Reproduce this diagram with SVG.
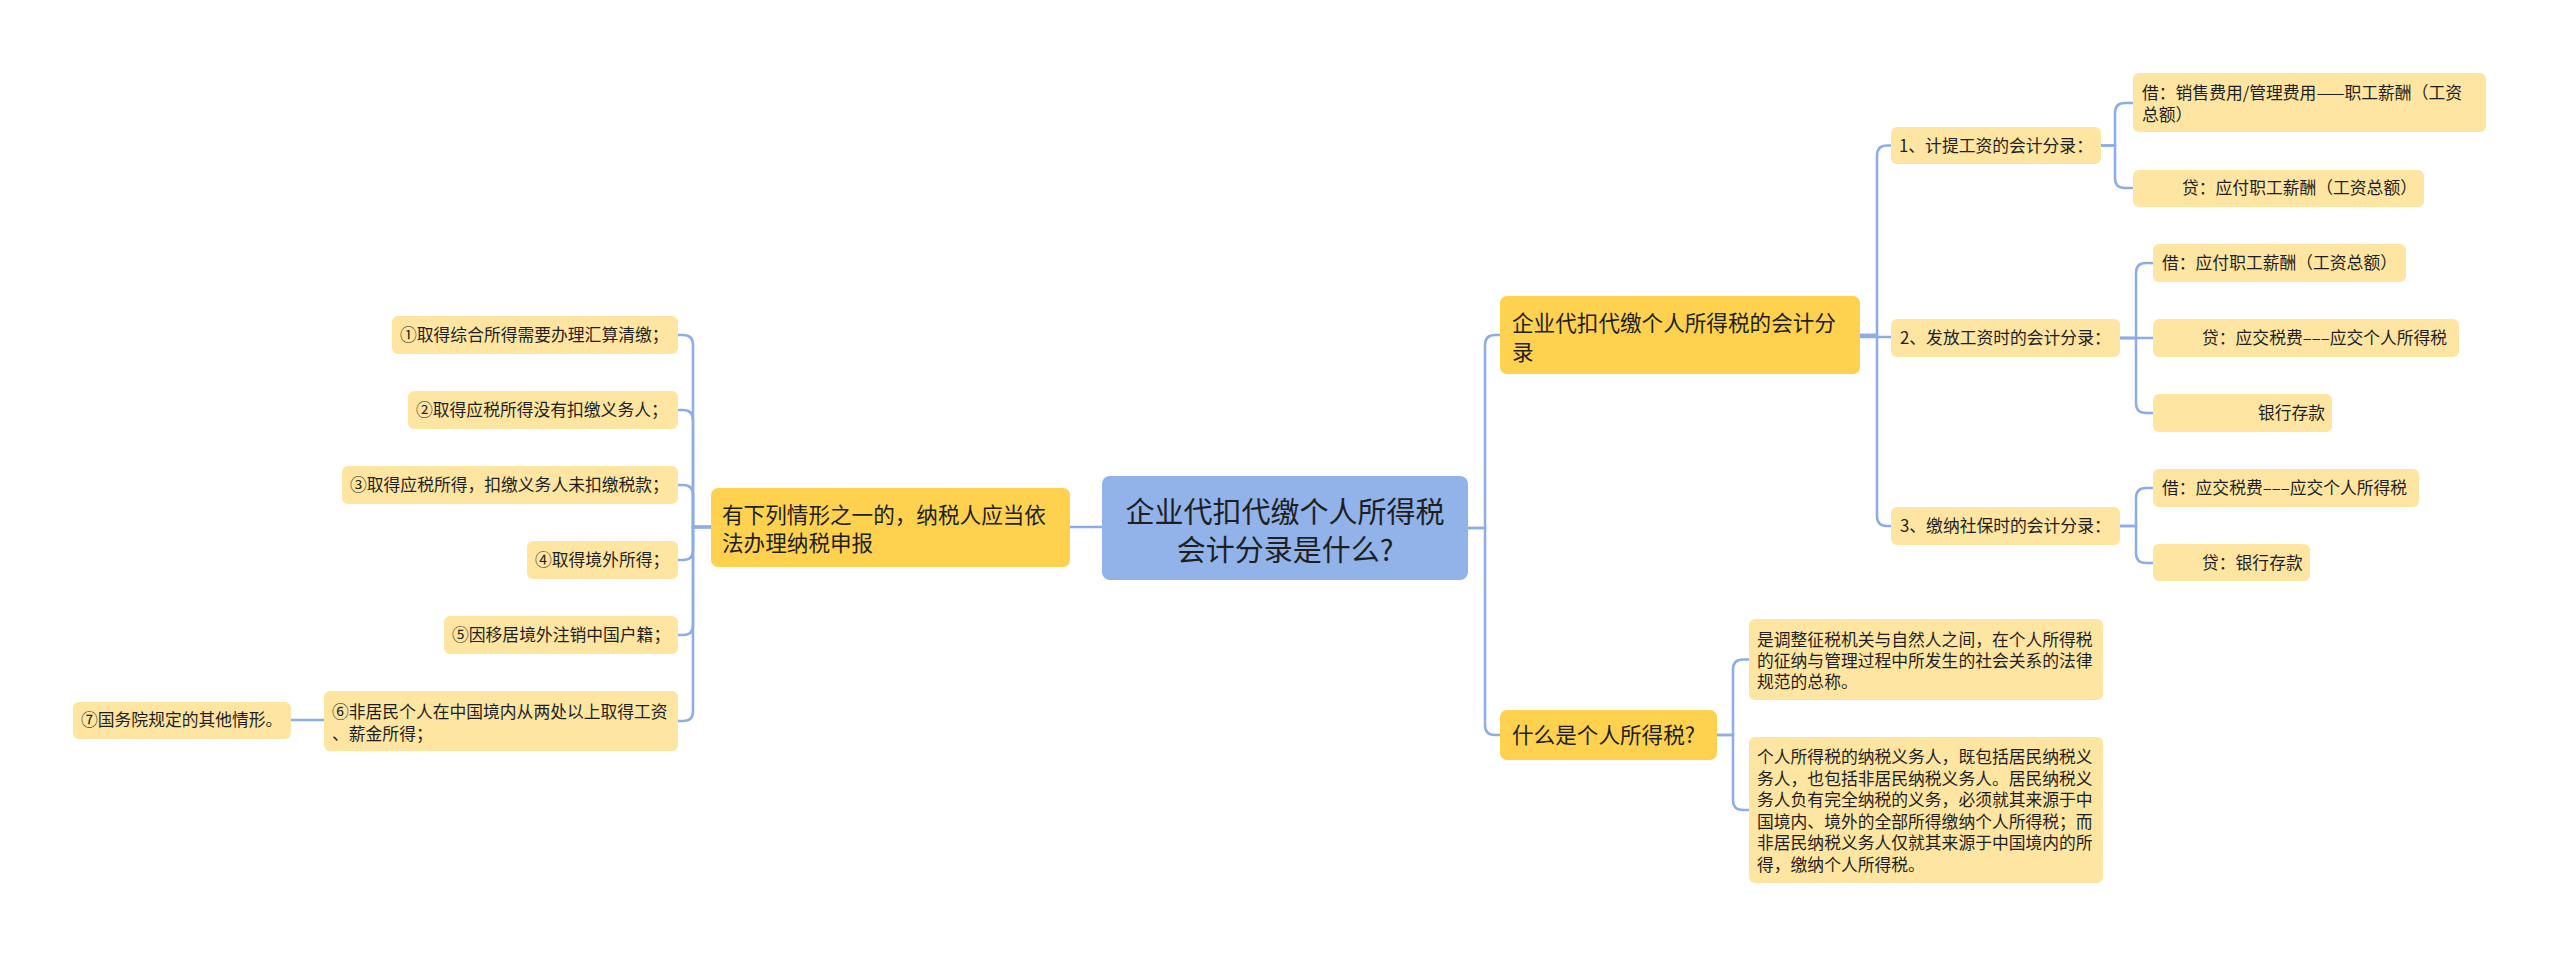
<svg xmlns="http://www.w3.org/2000/svg" width="2560" height="957" viewBox="0 0 2560 957">
<style>
text{font-family:"Noto Sans CJK SC","Noto Sans",sans-serif;fill:#1f1f1f}
.s{font-size:16.8px}
.m{font-size:21.6px}
.l{font-size:29px}
.root{fill:#92b3ea}
.l1{fill:#fed24f}
.lf{fill:#fee5a1}
#connectors path{fill:none;stroke:#8cade6;stroke-width:2.5}
</style>
<rect width="2560" height="957" fill="#ffffff"/>
<g id="connectors">
<path d="M1468 528 H1485 V345 Q1485 335 1495 335 H1500"/>
<path d="M1468 528 H1485 V725 Q1485 735 1495 735 H1500"/>
<path d="M1102 527 H1070"/>
<path d="M711 527 H693 V345 Q693 335 683 335 H678"/>
<path d="M711 527 H693 V420 Q693 410 683 410 H678"/>
<path d="M711 527 H693 V495 Q693 485 683 485 H678"/>
<path d="M711 527 H693 V550 Q693 560 683 560 H678"/>
<path d="M711 527 H693 V625 Q693 635 683 635 H678"/>
<path d="M711 527 H693 V711 Q693 721 683 721 H678"/>
<path d="M324 720 H291"/>
<path d="M1860 335 H1877 V155.5 Q1877 145.5 1887 145.5 H1891"/>
<path d="M1860 337 H1891"/>
<path d="M1860 335 H1877 V516 Q1877 526 1887 526 H1891"/>
<path d="M2101 145.5 H2115 V113 Q2115 103 2125 103 H2133"/>
<path d="M2101 145.5 H2115 V178 Q2115 188 2125 188 H2133"/>
<path d="M2120 338 H2136 V273 Q2136 263 2146 263 H2153"/>
<path d="M2120 338 H2153"/>
<path d="M2120 338 H2136 V403 Q2136 413 2146 413 H2153"/>
<path d="M2120 526 H2136 V498 Q2136 488 2146 488 H2153"/>
<path d="M2120 526 H2136 V553 Q2136 563 2146 563 H2153"/>
<path d="M1717 735 H1733 V669.5 Q1733 659.5 1743 659.5 H1749"/>
<path d="M1717 735 H1733 V800 Q1733 810 1743 810 H1749"/>
</g>
<g id="root">
<rect class="root" x="1102" y="476" width="366" height="104" rx="8"/>
<text class="l" x="1285" y="522.5" text-anchor="middle">企业代扣代缴个人所得税</text>
<text class="l" x="1285" y="560.5" text-anchor="middle">会计分录是什么?</text>
</g>
<g id="n-accounting">
<rect class="l1" x="1500" y="296" width="360" height="78" rx="7"/>
<text class="m" x="1512" y="331">企业代扣代缴个人所得税的会计分</text>
<text class="m" x="1512" y="360">录</text>
</g>
<g id="n-what">
<rect class="l1" x="1500" y="710" width="217" height="50" rx="7"/>
<text class="m" x="1512" y="743">什么是个人所得税?</text>
</g>
<g id="n-declare">
<rect class="l1" x="711" y="488" width="359" height="79" rx="7"/>
<text class="m" x="722" y="523">有下列情形之一的，纳税人应当依</text>
<text class="m" x="722" y="551">法办理纳税申报</text>
</g>
<g id="n-step1">
<rect class="lf" x="1891" y="127" width="210" height="37" rx="6"/>
<text class="s" x="1899" y="151.5">1、计提工资的会计分录：</text>
</g>
<g id="n-step1a">
<rect class="lf" x="2133" y="73" width="353" height="59" rx="6"/>
<text class="s" x="2142" y="99">借：销售费用/管理费用——职工薪酬（工资</text>
<text class="s" x="2142" y="121">总额）</text>
</g>
<g id="n-step1b">
<rect class="lf" x="2133" y="170" width="291" height="37" rx="6"/>
<text class="s" x="2182" y="194">贷：应付职工薪酬（工资总额）</text>
</g>
<g id="n-step2">
<rect class="lf" x="1891" y="319" width="229" height="38" rx="6"/>
<text class="s" x="1900" y="344">2、发放工资时的会计分录：</text>
</g>
<g id="n-step2a">
<rect class="lf" x="2153" y="244" width="253" height="38" rx="6"/>
<text class="s" x="2162" y="269">借：应付职工薪酬（工资总额）</text>
</g>
<g id="n-step2b">
<rect class="lf" x="2153" y="319" width="306" height="38" rx="6"/>
<text class="s" x="2202" y="344">贷：应交税费–––应交个人所得税</text>
</g>
<g id="n-step2c">
<rect class="lf" x="2153" y="394" width="179" height="38" rx="6"/>
<text class="s" x="2258" y="419">银行存款</text>
</g>
<g id="n-step3">
<rect class="lf" x="1891" y="507" width="229" height="38" rx="6"/>
<text class="s" x="1900" y="532">3、缴纳社保时的会计分录：</text>
</g>
<g id="n-step3a">
<rect class="lf" x="2153" y="469" width="266" height="38" rx="6"/>
<text class="s" x="2162" y="494">借：应交税费–––应交个人所得税</text>
</g>
<g id="n-step3b">
<rect class="lf" x="2153" y="544" width="157" height="37" rx="6"/>
<text class="s" x="2202" y="569">贷：银行存款</text>
</g>
<g id="n-def1">
<rect class="lf" x="1749" y="619" width="354" height="81" rx="6"/>
<text class="s" x="1757" y="646">是调整征税机关与自然人之间，在个人所得税</text>
<text class="s" x="1757" y="667">的征纳与管理过程中所发生的社会关系的法律</text>
<text class="s" x="1757" y="688">规范的总称。</text>
</g>
<g id="n-def2">
<rect class="lf" x="1749" y="737" width="354" height="146" rx="6"/>
<text class="s" x="1757" y="763">个人所得税的纳税义务人，既包括居民纳税义</text>
<text class="s" x="1757" y="784.6">务人，也包括非居民纳税义务人。居民纳税义</text>
<text class="s" x="1757" y="806.2">务人负有完全纳税的义务，必须就其来源于中</text>
<text class="s" x="1757" y="827.8">国境内、境外的全部所得缴纳个人所得税；而</text>
<text class="s" x="1757" y="849.4">非居民纳税义务人仅就其来源于中国境内的所</text>
<text class="s" x="1757" y="871">得，缴纳个人所得税。</text>
</g>
<g id="n-c1">
<rect class="lf" x="392" y="316" width="286" height="38" rx="6"/>
<text class="s" x="400" y="341">①取得综合所得需要办理汇算清缴；</text>
</g>
<g id="n-c2">
<rect class="lf" x="408" y="391" width="270" height="38" rx="6"/>
<text class="s" x="416" y="416">②取得应税所得没有扣缴义务人；</text>
</g>
<g id="n-c3">
<rect class="lf" x="342" y="466" width="336" height="38" rx="6"/>
<text class="s" x="350" y="491">③取得应税所得，扣缴义务人未扣缴税款；</text>
</g>
<g id="n-c4">
<rect class="lf" x="527" y="541" width="151" height="38" rx="6"/>
<text class="s" x="535" y="566">④取得境外所得；</text>
</g>
<g id="n-c5">
<rect class="lf" x="444" y="616" width="234" height="38" rx="6"/>
<text class="s" x="452" y="641">⑤因移居境外注销中国户籍；</text>
</g>
<g id="n-c6">
<rect class="lf" x="324" y="691" width="354" height="60" rx="6"/>
<text class="s" x="332" y="718">⑥非居民个人在中国境内从两处以上取得工资</text>
<text class="s" x="332" y="740">、薪金所得；</text>
</g>
<g id="n-c7">
<rect class="lf" x="73" y="702" width="218" height="37" rx="6"/>
<text class="s" x="81" y="726">⑦国务院规定的其他情形。</text>
</g>
</svg>
